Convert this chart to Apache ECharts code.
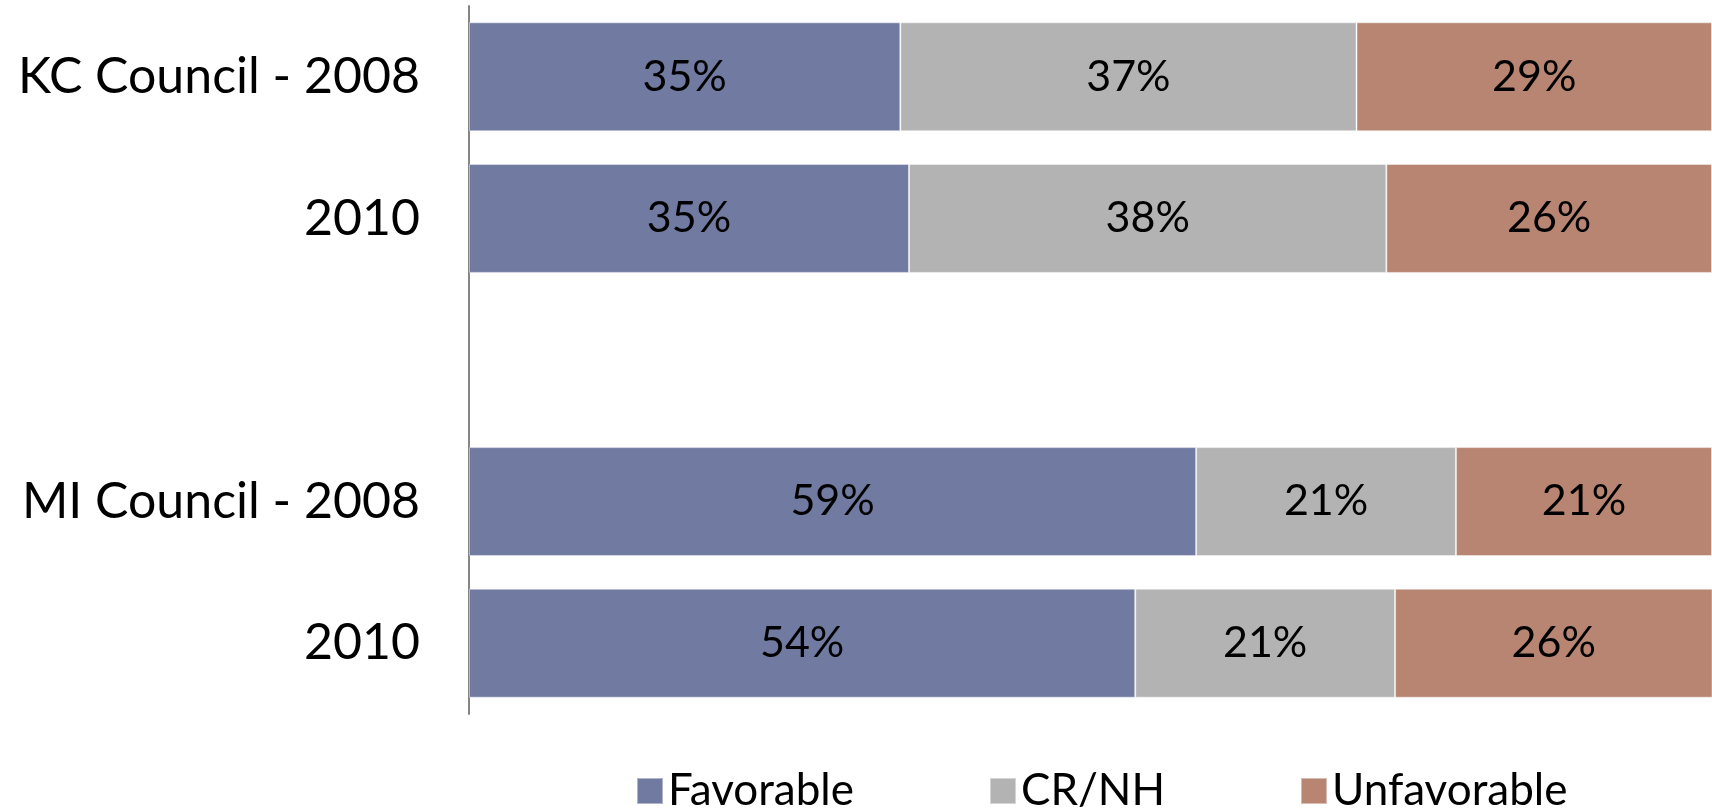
<!DOCTYPE html>
<html>
<head>
<meta charset="utf-8">
<script src="https://cdn.jsdelivr.net/npm/echarts@6/dist/echarts.min.js"></script>
<style>
html,body{margin:0;padding:0;background:#fff;}
#chart{width:1712px;height:809px;}
</style>
</head>
<body>
<div id="chart"></div>
<script>
const categories = ['KC Council - 2008', '2010', '', 'MI Council - 2008', '2010'];
const seriesNames = ['Favorable', 'CR/NH', 'Unfavorable'];
const favorable = [34.7, 35.4, null, 58.5, 53.6];
const crnh = [36.7, 38.4, null, 20.9, 20.9];
const unfavorable = [28.6, 26.2, null, 20.6, 25.6];
const colors = ['#717BA2', '#B3B3B3', '#B78571'];

const FONT = 'Lato';
const chart = echarts.init(document.getElementById('chart'), null, {renderer: 'canvas'});

function makeSeries(name, data, color) {
  return {
    name: name,
    type: 'bar',
    stack: 'total',
    data: data,
    barWidth: 109,
    itemStyle: {color: color, borderColor: 'rgba(255,255,255,0.45)', borderWidth: 1},
    label: {
      show: true,
      position: 'inside',
      color: '#000',
      fontFamily: FONT,
      fontSize: 43,
      formatter: p => (p.value == null ? '' : Math.round(p.value) + '%')
    },
    emphasis: {disabled: true},
    animation: false
  };
}

chart.setOption({
  animation: false,
  backgroundColor: '#fff',
  grid: {left: 469, right: -4, top: 6, bottom: 95, containLabel: false},
  xAxis: {
    type: 'value', min: 0, max: 100,
    show: false,
    splitLine: {show: false}
  },
  yAxis: {
    type: 'category',
    inverse: true,
    data: categories,
    axisLine: {show: true, lineStyle: {color: '#868686', width: 2}},
    axisTick: {show: false},
    axisLabel: {
      margin: 49,
      color: '#000',
      fontFamily: FONT,
      fontSize: 50
    }
  },
  legend: {
    data: seriesNames,
    left: 636,
    top: 769,
    padding: 0,
    itemWidth: 26,
    itemHeight: 26,
    itemGap: 135,
    icon: 'rect',
    textStyle: {color: '#000', fontFamily: FONT, fontSize: 44, lineHeight: 44},
    selectedMode: false
  },
  series: [
    makeSeries(seriesNames[0], favorable, colors[0]),
    makeSeries(seriesNames[1], crnh, colors[1]),
    makeSeries(seriesNames[2], unfavorable, colors[2])
  ]
});
</script>
</body>
</html>
